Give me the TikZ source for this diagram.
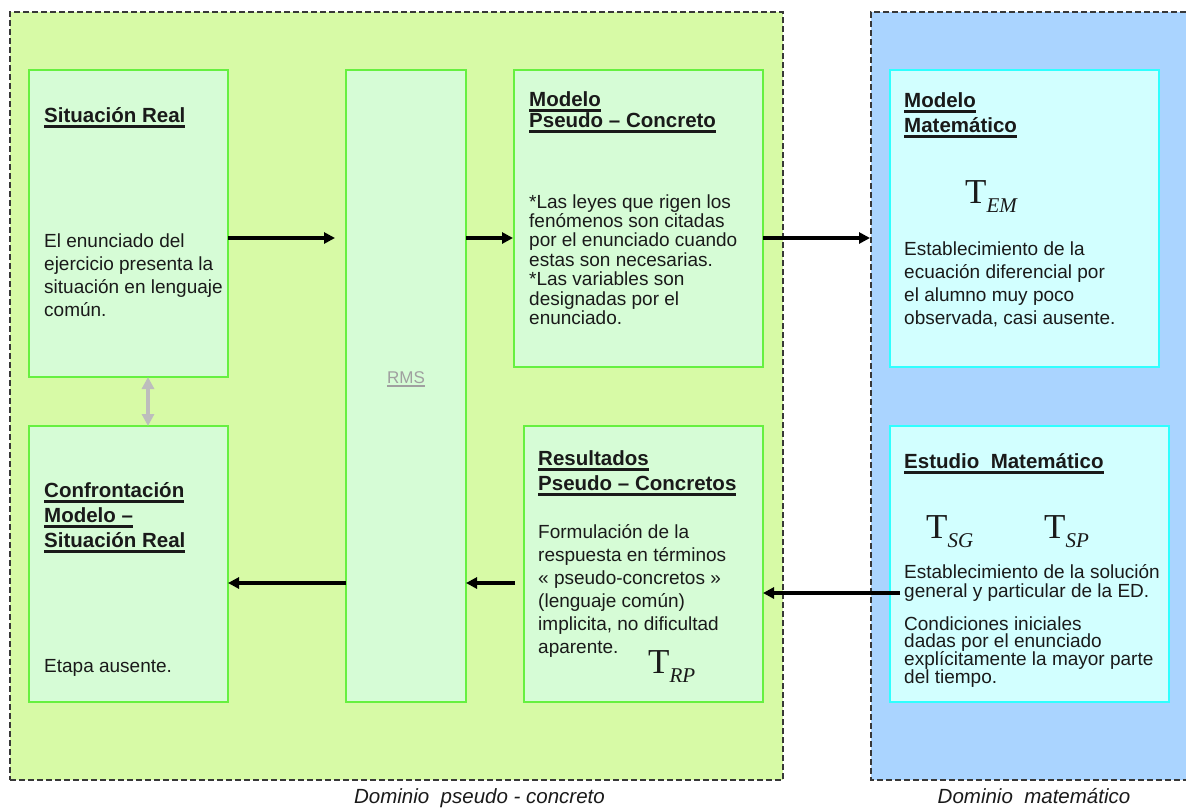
\documentclass[tikz,border=0pt]{standalone}
\usepackage{fontspec}
\setmainfont{Liberation Sans}
\newfontfamily\tfont{Liberation Serif}
\usetikzlibrary{arrows.meta}

\definecolor{pcdomain}{HTML}{D7FAA6}
\definecolor{pcbox}{HTML}{D6FCD6}
\definecolor{pcedge}{HTML}{66F040}
\definecolor{mdomain}{HTML}{AAD4FF}
\definecolor{mbox}{HTML}{D2FFFF}
\definecolor{medge}{HTML}{30FFFF}
\definecolor{dashgray}{HTML}{383838}
\definecolor{linkgray}{HTML}{A0A0A0}
\definecolor{dblgray}{HTML}{BDBDBD}
\definecolor{ink}{HTML}{1A1A1A}

% font sizes
\newcommand\bodysize{\fontsize{19}{23}\selectfont}
\newcommand\hdsize{\fontsize{20.5}{24}\selectfont\bfseries}
% heading line with a heavy underline
\newcommand\hd[1]{\setbox0=\hbox{#1}\rlap{\vrule height -2.5pt depth 5.5pt width \wd0}\box0}
% left aligned lines with a fixed baseline distance; baseline = first line
\newcommand\lines[2]{\vtop{\baselineskip=#1\lineskiplimit=-100pt\lineskip=0pt\halign{##\hfil\cr#2\crcr}}}
% serif T with an italic subscript
\newcommand\tsub[1]{{\tfont\fontsize{35}{35}\selectfont T}\raisebox{-9pt}{\tfont\itshape\fontsize{21}{21}\selectfont #1}}

\begin{document}
\begin{tikzpicture}[x=1pt,y=-1pt,
  dom/.style={anchor=north west, inner sep=0pt, outer sep=0pt},
  dashedge/.style={draw=dashgray, line width=1.5pt, dash pattern=on 6pt off 3pt},
  pcdom/.style={dom, fill=pcdomain, dashedge},
  mdom/.style={dom, fill=mdomain},
  pcstage/.style={anchor=north west, inner sep=0pt, outer sep=0pt, fill=pcbox, draw=pcedge, line width=2pt},
  mstage/.style={anchor=north west, inner sep=0pt, outer sep=0pt, fill=mbox, draw=medge, line width=2pt},
  head/.style={anchor=base west, inner sep=0pt, text=ink, font=\hdsize},
  body/.style={anchor=base west, inner sep=0pt, text=ink, font=\bodysize},
  tsym/.style={anchor=base west, inner sep=0pt, text=ink},
  caption/.style={anchor=base, inner sep=0pt, text=ink, font=\fontsize{20.5}{24}\selectfont\itshape},
  arr/.style={draw=black, line width=3.5pt, -{Triangle[length=11pt,width=11pt]}},
  dbl/.style={draw=dblgray, line width=4pt, {Triangle[length=12pt,width=12pt]}-{Triangle[length=12pt,width=12pt]}}
]
\useasboundingbox (0,0) rectangle (1186,809);
\fill[white] (0,0) rectangle (1186,809);

% domains
\node[pcdom, minimum width=773pt, minimum height=768pt] (dpc) at (10,12) {};
\node[mdom, minimum width=315pt, minimum height=768pt] (dm) at (871,12) {};
\draw[dashedge] (dm.north east) -- (dm.north west) -- (dm.south west) -- (dm.south east);

% stages
\node[pcstage, minimum width=199pt, minimum height=307pt] (sr) at (29,70) {};
\node[pcstage, minimum width=199pt, minimum height=276pt] (conf) at (29,426) {};
\node[pcstage, minimum width=120pt, minimum height=632pt] (rms) at (346,70) {};
\node[pcstage, minimum width=249pt, minimum height=297pt] (mpc) at (514,70) {};
\node[pcstage, minimum width=239pt, minimum height=276pt] (res) at (524,426) {};
\node[mstage, minimum width=269pt, minimum height=297pt] (mm) at (890,70) {};
\node[mstage, minimum width=279pt, minimum height=276pt] (em) at (890,426) {};

% Situación Real
\node[head] (srh) at (44,122) {\hd{Situación Real}};
\node[body] (srb) at (44,247) {\lines{23.3pt}{El enunciado del\cr ejercicio presenta la\cr situación en lenguaje\cr común.}};

% Confrontación
\node[head] (confh) at (44,497) {\lines{25pt}{\hd{Confrontación}\cr \hd{Modelo –}\cr \hd{Situación Real}}};
\node[body] (confb) at (44,672) {Etapa ausente.};

% RMS
\node[anchor=base, inner sep=0pt, text=linkgray, font=\fontsize{17}{20}\selectfont] (rmsl) at (406,383)
  {\setbox0=\hbox{RMS}\rlap{\vrule height -2pt depth 3.5pt width \wd0}\box0};

% Modelo Pseudo-Concreto
\node[head] (mpch) at (529,106) {\lines{21pt}{\hd{Modelo}\cr \hd{Pseudo – Concreto}}};
\node[body] (mpcb) at (529,208) {\lines{19.4pt}{*Las leyes que rigen los\cr fenómenos son citadas\cr por el enunciado cuando\cr estas son necesarias.\cr *Las variables son\cr designadas por el\cr enunciado.}};

% Resultados Pseudo-Concretos
\node[head] (resh) at (538,465) {\lines{25pt}{\hd{Resultados}\cr \hd{Pseudo – Concretos}}};
\node[body] (resb) at (538,538) {\lines{23pt}{Formulación de la\cr respuesta en términos\cr « pseudo-concretos »\cr (lenguaje común)\cr implicita, no dificultad\cr aparente.}};
\node[tsym] (trp) at (648,673) {\tsub{RP}};

% Modelo Matemático
\node[head] (mmh) at (904,107) {\lines{25pt}{\hd{Modelo}\cr \hd{Matemático}}};
\node[tsym] (tem) at (965,203) {\tsub{EM}};
\node[body] (mmb) at (904,255) {\lines{23.3pt}{Establecimiento de la\cr ecuación diferencial por\cr el alumno muy poco\cr observada, casi ausente.}};

% Estudio Matemático
\node[head] (emh) at (904,468) {\hd{Estudio~ Matemático}};
\node[tsym] (tsg) at (926,538) {\tsub{SG}};
\node[tsym] (tsp) at (1044,538) {\tsub{SP}};
\node[body] (emb) at (904,578) {\lines{19pt}{Establecimiento de la solución\cr general y particular de la ED.}};
\node[body] (emc) at (904,630) {\lines{17.7pt}{Condiciones iniciales\cr dadas por el enunciado\cr explícitamente la mayor parte\cr del tiempo.}};

% domain captions
\node[caption] (cpc) at (479.5,803) {Dominio~ pseudo - concreto};
\node[caption] (cm) at (1034,803) {Dominio~ matemático};

% connectors
\coordinate (top) at (0,238);
\coordinate (low) at (0,583);
\coordinate (ret) at (0,593);
\draw[arr, shorten >=11pt] (sr.east |- top) -- (rms.west |- top);
\draw[arr, shorten >=1pt] (rms.east |- top) -- (mpc.west |- top);
\draw[arr, shorten >=1pt] (mpc.east |- top) -- (dm.west |- top);
\draw[arr, shorten <=-10pt] (em.west |- ret) -- (res.east |- ret);
\draw[arr, shorten <=9pt] (res.west |- low) -- (rms.east |- low);
\draw[arr] (rms.west |- low) -- (conf.east |- low);
\draw[dbl] (sr.south -| 148,0) -- (conf.north -| 148,0);
\end{tikzpicture}
\end{document}
